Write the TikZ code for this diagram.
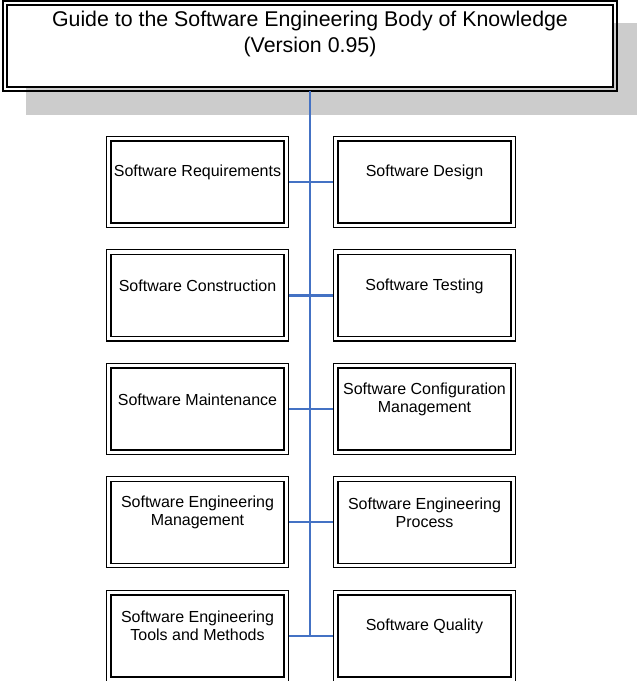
\documentclass[tikz,border=0pt]{standalone}
\usepackage{fontspec}
\setmainfont{Liberation Sans}
\usetikzlibrary{positioning}
\definecolor{linkblue}{RGB}{68,114,196}
\definecolor{shadowgray}{RGB}{204,204,204}
\tikzset{
  kabox/.style={draw, line width=1.3pt, fill=white, minimum width=129.75pt,
    minimum height=61.5pt, inner sep=0pt, outer sep=3.4pt},
  katext/.style={align=center, font=\fontsize{12}{13.5}\selectfont, yshift=7.2pt},
  frame/.style={line width=0.8pt},
  link/.style={draw=linkblue, line width=1.6pt},
}
\begin{document}
\begin{tikzpicture}[x=0.75pt,y=-0.75pt]
            \useasboundingbox (0,0) rectangle (637,681);
            % shadow of the title box
            \fill [shadowgray] (26,23) rectangle (637,115);
            \node [kabox, minimum width=454.5pt, outer sep=3pt,
              label={[align=center, font=\fontsize{16}{19.5}\selectfont, yshift=9pt]center:Guide to the Software Engineering Body of Knowledge\\(Version 0.95)}]
              (guide) at (310,46) {};
            % left column
            \node [kabox, label={[katext]center:Software Requirements}] (req) at (197.5,182) {};
            \node [kabox, below=16.8pt of req, label={[katext]center:Software Construction}] (cons) {};
            \node [kabox, below=16.8pt of cons, label={[katext]center:Software Maintenance}] (mnt) {};
            \node [kabox, below=16.8pt of mnt, label={[katext]center:Software Engineering\\Management}] (mgmt) {};
            \node [kabox, below=16.8pt of mgmt, label={[katext]center:Software Engineering\\Tools and Methods}] (tools) {};
            % right column
            \node [kabox, right=33.7pt of req, label={[katext]center:Software Design}] (des) {};
            \node [kabox, right=33.7pt of cons, label={[katext]center:Software Testing}] (test) {};
            \node [kabox, right=33.7pt of mnt, label={[katext]center:Software Configuration\\Management}] (conf) {};
            \node [kabox, right=33.7pt of mgmt, label={[katext]center:Software Engineering\\Process}] (proc) {};
            \node [kabox, right=33.7pt of tools, label={[katext]center:Software Quality}] (qual) {};
            % outer frames
            \foreach \n in {guide,req,cons,mnt,mgmt,tools,des,test,conf,proc,qual}
              \draw [frame] (\n.north west) rectangle (\n.south east);
            % connectors
            \foreach \l/\r in {req/des,cons/test,mnt/conf,mgmt/proc,tools/qual}
              \draw [link] (\l.east) -- (\r.west);
            \draw [link, line width=2pt] (guide.south) -- (guide.south |- tools.east);
        \end{tikzpicture}
\end{document}
